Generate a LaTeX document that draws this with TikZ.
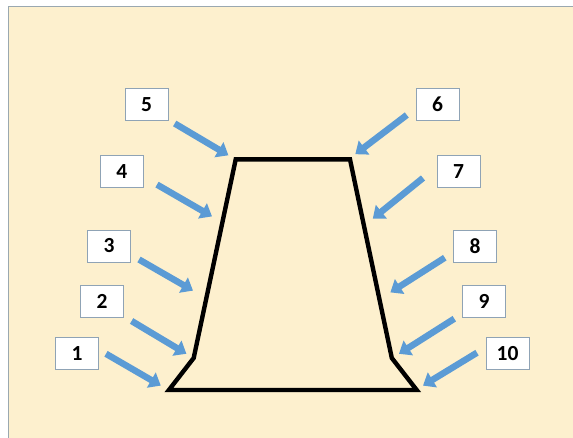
\documentclass[tikz,border=0pt]{standalone}
\usepackage{fontspec}
\setmainfont{Carlito}
\usetikzlibrary{arrows.meta}
\definecolor{bgcream}{HTML}{FDF0CE}
\definecolor{framegray}{HTML}{9AA8B0}
\definecolor{boxedge}{HTML}{8FA3B5}
\definecolor{arrowblue}{HTML}{5B9BD5}
\tikzset{
  numbox/.style={draw=boxedge, line width=0.8pt, fill=white, minimum width=43pt, minimum height=32pt, inner sep=0pt, font=\fontsize{21.5}{21.5}\selectfont\bfseries},
  bluearrow/.style={draw=arrowblue, line width=6.5pt, -{Triangle[length=11pt,width=17pt]}},
  outline/.style={draw=black, line width=4.4pt, line join=miter},
}
\begin{document}
\begin{tikzpicture}[x=1pt,y=-1pt]
\useasboundingbox (0,0) rectangle (573,438);
\fill[white] (0,0) rectangle (573,438);
\fill[bgcream] (8,6.5) rectangle (573,438);
\draw[framegray, line width=0.9pt] (8,438) -- (8,6.5) -- (573,6.5);
% trapezoid
\coordinate (p1) at (168.9,390);
\coordinate (p2) at (193.7,358);
\coordinate (p3) at (235.7,159.4);
\coordinate (p4) at (350,159.4);
\coordinate (p5) at (391.8,358);
\coordinate (p6) at (416.7,390);
\draw[outline] (p1) -- (p2) -- (p3) -- (p4) -- (p5) -- (p6) -- cycle;
% boxes
\node[numbox] (b1) at (77,353.5) {1};
\node[numbox] (b2) at (102,301) {2};
\node[numbox] (b3) at (109,246) {3};
\node[numbox] (b4) at (121.7,171.5) {4};
\node[numbox] (b5) at (146.5,104.5) {5};
\node[numbox] (b6) at (437.5,104.5) {6};
\node[numbox] (b7) at (458.5,171.5) {7};
\node[numbox] (b8) at (475,246) {8};
\node[numbox] (b9) at (484,301) {9};
\node[numbox] (b10) at (507.5,353.5) {10};
% arrow endpoints
\coordinate (s1) at (106,353.8);   \coordinate (t1) at (160.8,385.6);
\coordinate (s2) at (131.6,321);   \coordinate (t2) at (186.4,353.8);
\coordinate (s3) at (139,259.5);   \coordinate (t3) at (193,290.6);
\coordinate (s4) at (157,184.6);   \coordinate (t4) at (212,216.4);
\coordinate (s5) at (174.7,123.5); \coordinate (t5) at (228.4,155.3);
\coordinate (s6) at (406.8,115);   \coordinate (t6) at (355.3,154.2);
\coordinate (s7) at (423,178);     \coordinate (t7) at (372.8,218.6);
\coordinate (s8) at (444.8,257.7); \coordinate (t8) at (390.4,292.4);
\coordinate (s9) at (454.3,318.7); \coordinate (t9) at (399,353.8);
\coordinate (s10) at (477,352.7);  \coordinate (t10) at (423,385.6);
\foreach \i in {1,...,10} {
  \draw[bluearrow] (s\i) -- (t\i);
}
\end{tikzpicture}
\end{document}
